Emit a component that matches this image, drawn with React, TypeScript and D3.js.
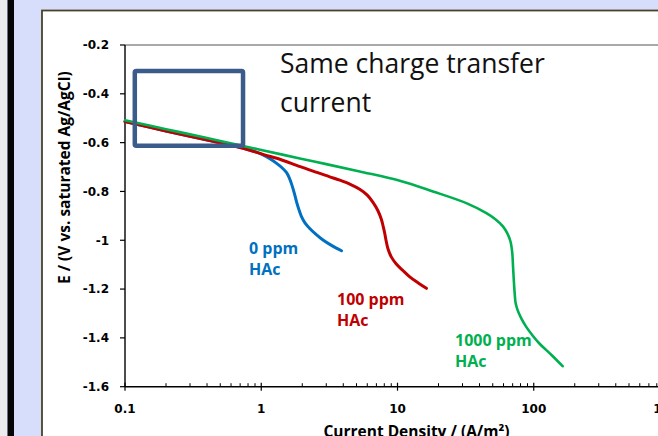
import React from 'react';
import * as d3 from 'd3';

const WIDTH = 658;
const HEIGHT = 436;

// current density (A/m2) and potential (V vs Ag/AgCl)
const iBlank = [0.1, 0.15, 0.2, 0.3, 0.45, 0.6, 0.75, 0.9, 1.03, 1.15, 1.29, 1.42, 1.53, 1.6, 1.67, 1.75, 1.82, 1.9, 1.97, 2.1, 2.27, 2.5, 2.84, 3.3, 3.88];
const eBlank = [-0.514, -0.536, -0.552, -0.574, -0.596, -0.611, -0.624, -0.637, -0.650, -0.665, -0.684, -0.703, -0.722, -0.742, -0.770, -0.808, -0.845, -0.878, -0.902, -0.930, -0.952, -0.974, -0.999, -1.022, -1.043];

const i100 = [0.1, 0.2, 0.3, 0.5, 0.75, 1.03, 1.4, 1.82, 2.4, 3.18, 3.77, 4.5, 5.28, 6.0, 6.61, 7.2, 7.62, 7.85, 8.05, 8.25, 8.51, 9.0, 9.8, 11.0, 12.3, 14.2, 16.3];
const e100 = [-0.514, -0.552, -0.574, -0.601, -0.624, -0.648, -0.670, -0.693, -0.717, -0.740, -0.754, -0.771, -0.791, -0.815, -0.845, -0.880, -0.915, -0.943, -0.970, -1.002, -1.035, -1.068, -1.097, -1.125, -1.150, -1.175, -1.197];

const i1000 = [0.1, 0.2, 0.4, 0.737, 1.0, 1.92, 3.0, 5.28, 10.4, 18.2, 32, 44.9, 52, 59.4, 64, 67.5, 69.5, 70.5, 71.5, 72.5, 73.5, 76, 81, 88.1, 98, 110, 135, 163];
const e1000 = [-0.508, -0.545, -0.581, -0.614, -0.630, -0.665, -0.688, -0.718, -0.756, -0.800, -0.848, -0.889, -0.913, -0.943, -0.972, -1.005, -1.050, -1.110, -1.170, -1.220, -1.255, -1.285, -1.320, -1.355, -1.390, -1.423, -1.470, -1.516];

const yTicks = [-0.2, -0.4, -0.6, -0.8, -1, -1.2, -1.4, -1.6];
const xTicks = [0.1, 1, 10, 100, 1000];
const xTickLabels = ['0.1', '1', '10', '100', '1000'];

// highlighted region (current density range, potential range)
const boxI = [0.118, 0.735];
const boxE = [-0.307, -0.613];

const seriesList = [
    {name: ['0 ppm', 'HAc'], i: iBlank, e: eBlank, color: '#0070c0', width: 3, label: [249, 254]},
    {name: ['100 ppm', 'HAc'], i: i100, e: e100, color: '#c00000', width: 3, label: [337, 305]},
    {name: ['1000 ppm', 'HAc'], i: i1000, e: e1000, color: '#00b050', width: 2.6, label: [455, 346]},
];

const xScale = d3.scaleLog().domain([0.1, 1000]).range([125, 670]);
const yScale = d3.scaleLinear().domain([-1.6, -0.2]).range([386.7, 45]);

const line = d3.line<[number, number]>()
    .x(d => xScale(d[0]))
    .y(d => yScale(d[1]))
    .curve(d3.curveCatmullRom.alpha(0.5));

const minorTicks: number[] = [];
[0.1, 1, 10, 100].forEach(dec => {
    for (let k = 2; k <= 9; k++) {
        minorTicks.push(dec * k);
    }
});

const tickFont = {fontFamily: 'DejaVu Sans', fontWeight: 'bold', fontSize: 12};
const labelFont = {fontFamily: 'Open Sans', fontWeight: 'bold'};

export default function App() {
    const [y0, y1] = yScale.range();
    const x0 = xScale(0.1);

    return (
        <svg width={WIDTH} height={HEIGHT} style={{position: 'absolute', left: 0, top: 0}}>
            {/* slide background */}
            <rect x={0} y={0} width={WIDTH} height={HEIGHT} fill="#d6defb"/>
            <rect x={0} y={0} width={7} height={HEIGHT} fill="#ececec"/>
            <rect x={7.5} y={0} width={6.5} height={HEIGHT} fill="#050505"/>
            <rect x={42} y={10.5} width={WIDTH} height={HEIGHT} fill="#ffffff" stroke="#4a4326" strokeWidth={1.8}/>

            {/* plot frame */}
            <line x1={x0} x2={WIDTH} y1={y1} y2={y1} stroke="#8c8c8c" strokeWidth={1.3}/>
            <line x1={x0} x2={x0} y1={y1} y2={y0} stroke="#000" strokeWidth={1.4}/>
            <line x1={x0} x2={xScale(1000)} y1={y0} y2={y0} stroke="#000" strokeWidth={1.4}/>

            {yTicks.map(v => (
                <g key={v}>
                    <line x1={x0 - 5} x2={x0} y1={yScale(v)} y2={yScale(v)} stroke="#000" strokeWidth={1.2}/>
                    <text x={x0 - 16} y={yScale(v)} dy="0.36em" textAnchor="end" {...tickFont}>
                        {+v.toFixed(1)}
                    </text>
                </g>
            ))}

            {minorTicks.map(v => (
                <line key={v} x1={xScale(v)} x2={xScale(v)} y1={y0 - 3.5} y2={y0} stroke="#000" strokeWidth={1}/>
            ))}
            {xTicks.map((v, k) => (
                <g key={v}>
                    <line x1={xScale(v)} x2={xScale(v)} y1={y0 - 4} y2={y0 + 4} stroke="#000" strokeWidth={1.2}/>
                    <text x={xScale(v)} y={412.5} textAnchor="middle" {...tickFont}>{xTickLabels[k]}</text>
                </g>
            ))}

            {/* axis titles */}
            <text x={416.5} y={437} textAnchor="middle" fontSize={15.5} {...labelFont}>
                Current Density / (A/m²)
            </text>
            <text transform="translate(70,177.7) rotate(-90)" textAnchor="middle" fontSize={15.5} {...labelFont}>
                E / (V vs. saturated Ag/AgCl)
            </text>

            {/* curves */}
            {seriesList.map(s => (
                <path key={s.color}
                      d={line(s.i.map((v, k) => [v, s.e[k]] as [number, number])) || ''}
                      fill="none" stroke={s.color} strokeWidth={s.width}
                      strokeLinejoin="round" strokeLinecap="round"/>
            ))}

            {seriesList.map(s => (
                <text key={s.color} x={s.label[0]} y={s.label[1]} fill={s.color} fontSize={16} {...labelFont}>
                    <tspan x={s.label[0]}>{s.name[0]}</tspan>
                    <tspan x={s.label[0]} dy={21}>{s.name[1]}</tspan>
                </text>
            ))}

            {/* annotation */}
            <rect x={xScale(boxI[0])} y={yScale(boxE[0])}
                  width={xScale(boxI[1]) - xScale(boxI[0])} height={yScale(boxE[1]) - yScale(boxE[0])}
                  fill="none" stroke="#3b5c8a" strokeWidth={4.5} rx={1.5}/>
            <text x={280} y={73} fontFamily="Open Sans" fontSize={26.5} fill="#111">
                <tspan x={280}>Same charge transfer</tspan>
                <tspan x={280} dy={38.5}>current</tspan>
            </text>
        </svg>
    );
}
